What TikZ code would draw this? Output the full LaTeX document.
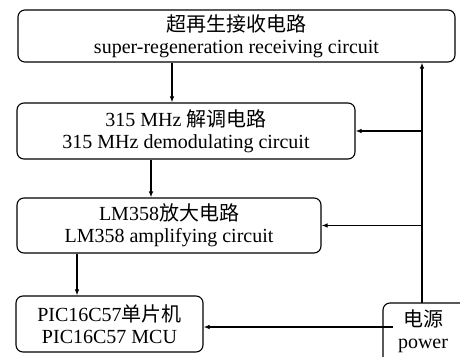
\documentclass[tikz,border=0pt]{standalone}
\usepackage{fontspec}
\setmainfont{Liberation Serif}
\newfontfamily\cjk{Noto Sans CJK SC}
\usetikzlibrary{arrows.meta}
\begin{document}
\begin{tikzpicture}[x=1pt,y=-1pt,
  blk/.style={draw,line width=1.1pt,rounded corners=7pt,align=center,inner sep=0pt,
    font=\fontsize{20}{22}\selectfont},
  arr/.style={line width=1.1pt,-{Latex[length=6pt,width=4.5pt]}},
  ln/.style={line width=1.1pt}]
\clip (0,0) rectangle (460,356);
\useasboundingbox (0,0) rectangle (460,356);
\node[blk,minimum width=437pt,minimum height=52pt] (b1) at (236.5,36)
  {{\cjk 超再生接收电路}\\super-regeneration receiving circuit};
\node[blk,minimum width=338pt,minimum height=56pt] (b2) at (186,131)
  {315 MHz {\cjk 解调电路}\\315 MHz demodulating circuit};
\node[blk,minimum width=304pt,minimum height=55pt] (b3) at (169,225.5)
  {LM358{\cjk 放大电路}\\LM358 amplifying circuit};
\node[blk,minimum width=187pt,minimum height=56pt] (b4) at (109.5,324)
  {PIC16C57{\cjk 单片机}\\PIC16C57 MCU};
\node[align=center,inner sep=0pt,font=\fontsize{20}{22}\selectfont] (pw) at (423,331)
  {{\cjk 电源}\\power};
\draw[line width=1.1pt,rounded corners=7pt] (383,380) -- (383,303) -- (480,303);
\coordinate (pt) at (422,303);
\coordinate (pl) at (393,327);
\draw[arr] (172,0 |- b1.south) -- (172,0 |- b2.north);
\draw[arr] (151,0 |- b2.south) -- (151,0 |- b3.north);
\draw[arr] (77,0 |- b3.south) -- (77,0 |- b4.north);
\draw[arr] (pt) -- (pt |- b1.south);
\draw[arr] (pt |- b2.east) -- (b2.east);
\draw[arr] (pt |- b3.east) -- (b3.east);
\draw[arr] (pl) -- (pl -| b4.east);
\end{tikzpicture}
\end{document}
